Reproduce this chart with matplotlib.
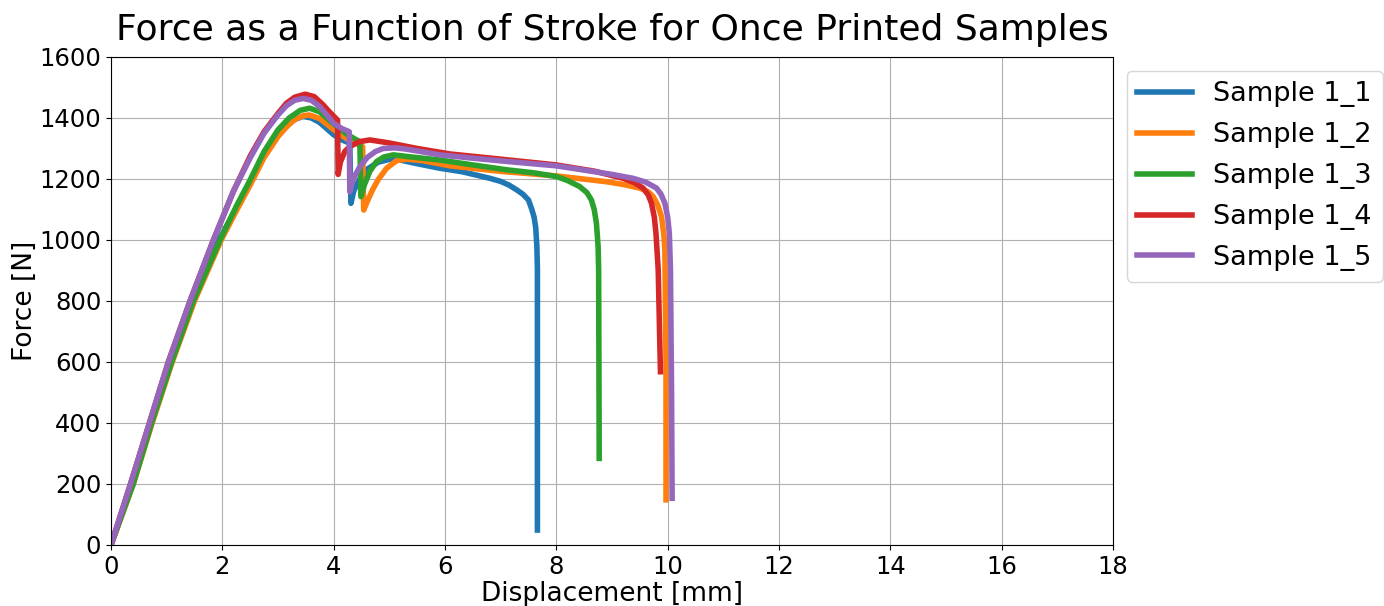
import matplotlib
matplotlib.use("Agg")
import matplotlib.pyplot as plt

labels = ["Sample 1_1", "Sample 1_2", "Sample 1_3", "Sample 1_4", "Sample 1_5"]

x_s1 = [0, 0.38, 0.72, 1.07, 1.46, 1.94, 2.25, 2.5, 2.75, 3.0, 3.15, 3.3, 3.45, 3.6, 3.75, 4.0, 4.15, 4.29,
        4.31, 4.36, 4.45, 4.6, 4.8, 5.0, 5.2, 5.5, 5.91, 6.3, 6.81, 7.0, 7.15, 7.29, 7.4, 7.5, 7.56,
        7.6, 7.63, 7.65, 7.66, 7.66]
y_s1 = [0, 200, 400, 600, 800, 1000, 1105, 1190, 1282, 1345, 1375, 1395, 1405, 1400, 1385, 1345, 1328, 1317,
        1120, 1160, 1195, 1232, 1255, 1264, 1262, 1250, 1235, 1224, 1202, 1192, 1180, 1164, 1150, 1131, 1100,
        1075, 1040, 980, 902, 49]

x_s2 = [0, 0.4, 0.74, 1.1, 1.5, 1.98, 2.25, 2.5, 2.75, 3.0, 3.15, 3.3, 3.45, 3.56, 3.75, 4.0, 4.25, 4.52,
        4.54, 4.6, 4.7, 4.8, 4.95, 5.13, 5.3, 5.6, 6.09, 7.0, 8.0, 8.9, 9.2, 9.5, 9.65, 9.74, 9.82, 9.89,
        9.93, 9.95, 9.97, 9.97]
y_s2 = [0, 200, 400, 600, 800, 1000, 1095, 1180, 1270, 1339, 1370, 1395, 1407, 1410, 1398, 1362, 1330, 1306,
        1098, 1125, 1165, 1198, 1235, 1260, 1265, 1260, 1243, 1225, 1210, 1191, 1182, 1170, 1158, 1142, 1115, 1076,
        1020, 967, 600, 148]

x_s3 = [0, 0.4, 0.73, 1.09, 1.48, 1.96, 2.25, 2.5, 2.75, 3.0, 3.2, 3.4, 3.57, 3.75, 4.0, 4.25, 4.47,
        4.49, 4.55, 4.65, 4.77, 4.9, 5.07, 5.4, 5.91, 6.5, 7.11, 7.6, 8.0, 8.2, 8.42, 8.55, 8.63, 8.68,
        8.72, 8.75, 8.76, 8.77]
y_s3 = [0, 200, 400, 600, 800, 1000, 1110, 1197, 1290, 1361, 1400, 1425, 1432, 1420, 1380, 1345, 1322,
        1142, 1180, 1225, 1257, 1272, 1279, 1272, 1262, 1246, 1230, 1220, 1208, 1195, 1175, 1155, 1131, 1100,
        1055, 980, 902, 284]

x_s4 = [0, 0.35, 0.69, 1.03, 1.42, 1.84, 2.2, 2.5, 2.75, 3.0, 3.15, 3.3, 3.49, 3.65, 3.8, 3.95, 4.07,
        4.08, 4.12, 4.2, 4.29, 4.45, 4.65, 5.0, 5.5, 6.09, 7.0, 8.0, 8.7, 9.2, 9.4, 9.56, 9.65, 9.71,
        9.76, 9.79, 9.83, 9.87]
y_s4 = [0, 200, 400, 600, 800, 1000, 1160, 1275, 1355, 1415, 1448, 1468, 1478, 1470, 1445, 1415, 1393,
        1215, 1255, 1290, 1306, 1322, 1328, 1318, 1300, 1282, 1265, 1246, 1225, 1202, 1188, 1170, 1148, 1120,
        1075, 1022, 902, 568]

x_s5 = [0, 0.35, 0.69, 1.03, 1.42, 1.84, 2.2, 2.5, 2.75, 3.0, 3.15, 3.3, 3.45, 3.6, 3.75, 3.9, 4.0, 4.15, 4.28,
        4.29, 4.35, 4.47, 4.6, 4.75, 4.89, 5.1, 5.3, 5.91, 6.5, 7.2, 8.0, 9.0, 9.38, 9.6, 9.80, 9.88, 9.95,
        10.0, 10.03, 10.05, 10.07, 10.08]
y_s5 = [0, 200, 400, 600, 800, 1000, 1160, 1269, 1350, 1410, 1440, 1458, 1464, 1458, 1437, 1405, 1382, 1365, 1355,
        1158, 1200, 1240, 1270, 1290, 1300, 1302, 1298, 1279, 1268, 1256, 1243, 1215, 1202, 1190, 1170, 1150, 1120,
        1075, 1022, 902, 500, 153]

series_x = [x_s1, x_s2, x_s3, x_s4, x_s5]
series_y = [y_s1, y_s2, y_s3, y_s4, y_s5]
colors = ["#1f77b4", "#ff7f0e", "#2ca02c", "#d62728", "#9467bd"]

fig = plt.figure(figsize=(13.84, 6.06), dpi=100)
ax = fig.add_axes([0.0802, 0.1007, 0.724, 0.8053])
for xs, ys, lab, c in zip(series_x, series_y, labels, colors):
    ax.plot(xs, ys, color=c, lw=4, label=lab, solid_joinstyle="round")

ax.set_xlim(0, 18)
ax.set_ylim(0, 1600)
ax.set_xticks(range(0, 19, 2))
ax.set_yticks(range(0, 1601, 200))
ax.tick_params(labelsize=17.5)
ax.grid(True)
ax.set_xlabel("Displacement [mm]", fontsize=19, labelpad=2)
ax.set_ylabel("Force [N]", fontsize=19, labelpad=1)
ax.set_title("Force as a Function of Stroke for Once Printed Samples", fontsize=26, pad=12)
ax.legend(loc="upper left", bbox_to_anchor=(1.0, 1.0), fontsize=19.5, labelspacing=0.55)

fig.savefig("out.png", dpi=100)
